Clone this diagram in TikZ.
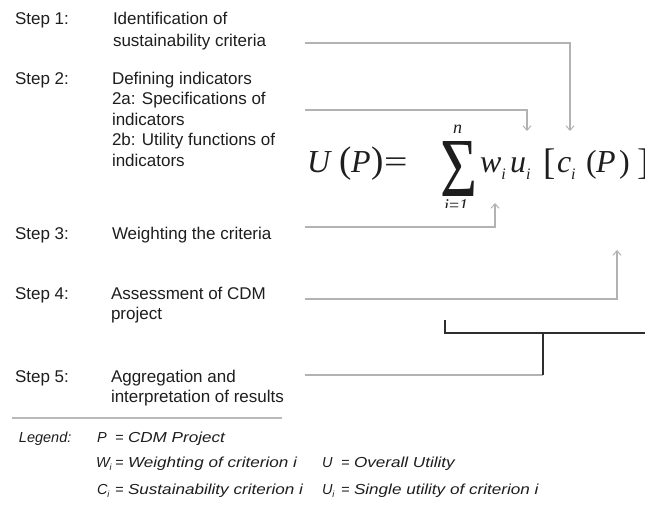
\documentclass[tikz,border=0pt]{standalone}
\usepackage{graphicx}
\usepackage{fontspec}
\setmainfont{Liberation Sans}
\newfontfamily\fser{Liberation Serif}
\newfontfamily\legfont{Liberation Sans}
\newfontfamily\legwide[FakeStretch=1.18]{Liberation Sans}
\usetikzlibrary{arrows.meta}
\definecolor{txt}{HTML}{1E1E1E}
\definecolor{conn}{HTML}{B2B2B2}
\definecolor{brk}{HTML}{2E2E2E}
\newcommand{\fsz}[1]{\fontsize{#1}{#1}\selectfont}
\newcommand{\lsub}[1]{\raisebox{-3pt}{\fontsize{9}{9}\selectfont #1}}
\newcommand{\fsubi}{\raisebox{-7pt}{\fontsize{16}{16}\selectfont\itshape i}}
\begin{document}
\begin{tikzpicture}[x=1pt,y=-1pt,
  every node/.style={inner sep=0pt, outer sep=0pt, text=txt},
  steplbl/.style={anchor=base west, font=\fontsize{17}{20.5}\selectfont},
  fx/.style={anchor=base west, font=\fser\itshape\fsz{32}},
  fup/.style={anchor=base west, font=\fser\fsz{32}},
  fbig/.style={anchor=base west, font=\fser\fsz{37}},
  flim/.style={anchor=base west, font=\fser\itshape\fsz{18}},
  leg/.style={anchor=base west, font=\legfont\itshape\fsz{14.5}},
  legtxt/.style={anchor=base west, font=\legwide\itshape\fsz{14.5}},
  link/.style={draw=conn, line width=1.3pt},
  linkarr/.style={link, -{Straight Barb[length=4.5pt,width=8pt,line width=1pt]}},
  bracket/.style={draw=brk, line width=2pt},
]
\useasboundingbox[fill=white] (0,0) rectangle (645,517);

% Steps
\node[steplbl] (l1) at (15,24) {Step 1:};
\node[steplbl] (d1) at (113,24) {\parbox[t]{200pt}{\raggedright Identification of\\[1.5pt]sustainability criteria}};
\node[steplbl] (l2) at (15,84) {Step 2:};
\node[steplbl] (d2) at (112,84) {\parbox[t]{200pt}{\raggedright Defining indicators\\2a: Specifications of\\indicators\\2b: Utility functions of\\indicators}};
\node[steplbl] (l3) at (15,239) {Step 3:};
\node[steplbl] (d3) at (112,239) {Weighting the criteria};
\node[steplbl] (l4) at (15,299) {Step 4:};
\node[steplbl] (d4) at (111,299) {\parbox[t]{200pt}{\raggedright Assessment of CDM\\project}};
\node[steplbl] (l5) at (15,382) {Step 5:};
\node[steplbl] (d5) at (111,382) {\parbox[t]{200pt}{\raggedright Aggregation and\\interpretation of results}};

% Formula
\node[fx] (fU) at (307,172) {U};
\node[fbig] (fpl) at (339,172) {(};
\node[fx] (fP) at (351,172) {P};
\node[fbig] (fpr) at (371,172) {)};
\node[fup] (feq) at (384,172) {\scalebox{1.3}[1]{=}};
\node[anchor=base west, font=\fser\fsz{32}] (fsum) at (440,196) {\resizebox{37pt}{55pt}{Σ}};
\node[flim] (fn) at (453,133) {n};
\begin{scope}
\clip (430,190) rectangle (480,207.5);
\node[flim] (fi) at (444,211) {i\textup{=}1};
\end{scope}
\node[fx] (fw) at (480,172) {w\fsubi};
\node[fx] (fu) at (510,172) {u\fsubi};
\node[fbig] (fbl) at (543,174) {[};
\node[fx] (fc) at (557,172) {c\fsubi};
\node[fup] (fpl2) at (586,172) {(};
\node[fx] (fP2) at (596,172) {P};
\node[fup] (fpr2) at (619,172) {)};
\node[fbig] (fbr) at (637,174) {]};

% Connectors
\coordinate (s1) at (305,43);  \coordinate (t1) at (570,131);
\coordinate (s2) at (305,110); \coordinate (t2) at (527,131);
\coordinate (s3) at (305,227); \coordinate (t3) at (495,203);
\coordinate (s4) at (305,299); \coordinate (t4) at (617,250);
\coordinate (s5) at (305,375);
\draw[linkarr] (s1) -| (t1);
\draw[linkarr] (s2) -| (t2);
\draw[linkarr] (s3) -| (t3);
\draw[linkarr] (s4) -| (t4);

\coordinate (b1) at (445,320); \coordinate (b2) at (645,333);
\coordinate (b3) at (543,333); \coordinate (b4) at (543,375);
\draw[link] (s5) -- (b4);
\draw[bracket] (b1) |- (b2);
\draw[bracket] (b3) -- (b4);

% Separator
\coordinate (sepL) at (12,418); \coordinate (sepR) at (282,418);
\draw[link, draw=gray!55] (sepL) -- (sepR);

% Legend
\node[leg] (lg) at (19,442) {Legend:};
\node[leg] (lP) at (97,442) {P};
\node[leg] (lPe) at (115,442) {=};
\node[legtxt] (lPt) at (128,442) {CDM Project};
\node[leg] (lW) at (96,467) {W\lsub{i}};
\node[leg] (lWe) at (115,467) {=};
\node[legtxt] (lWt) at (128,467) {Weighting of criterion i};
\node[leg] (lC) at (97,494) {C\lsub{i}};
\node[leg] (lCe) at (115,494) {=};
\node[legtxt] (lCt) at (128,494) {Sustainability criterion i};
\node[leg] (lU) at (322,467) {U};
\node[leg] (lUe) at (341,467) {=};
\node[legtxt] (lUt) at (354,467) {Overall Utility};
\node[leg] (lUi) at (322,494) {U\lsub{i}};
\node[leg] (lUie) at (341,494) {=};
\node[legtxt] (lUit) at (354,494) {Single utility of criterion i};
\end{tikzpicture}
\end{document}
